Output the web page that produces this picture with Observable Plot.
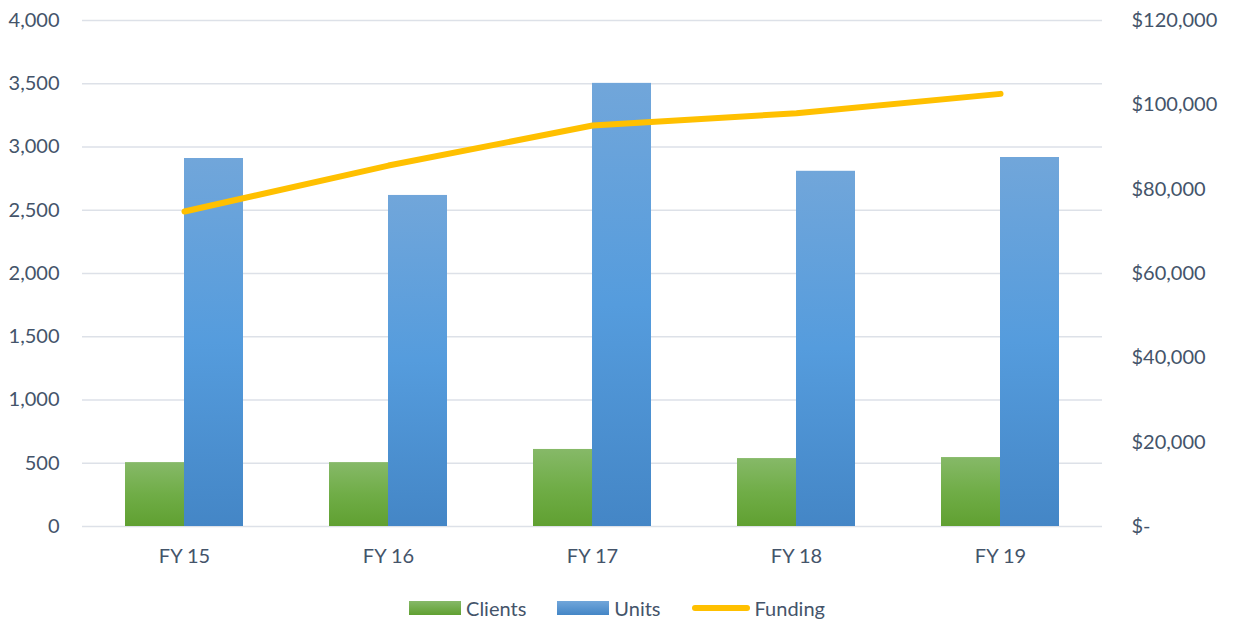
<!DOCTYPE html>
<html>
<head>
<meta charset="utf-8">
<script src="https://cdn.jsdelivr.net/npm/d3@7"></script>
<script src="https://cdn.jsdelivr.net/npm/@observablehq/plot@0.6"></script>
<style>
  html, body { margin: 0; padding: 0; background: #fff; }
  body { width: 1234px; height: 623px; overflow: hidden; font-family: Lato, "Open Sans", sans-serif; }
  #legend { display: flex; justify-content: center; align-items: center; gap: 31px; height: 30px; margin-top: 14px; padding-right: 0px;
            font-size: 20px; color: #44546A; }
  .item { display: flex; align-items: center; gap: 5px; }
</style>
</head>
<body>
<div id="chart"></div>
<div id="legend"></div>
<script>
const years = ["FY 15", "FY 16", "FY 17", "FY 18", "FY 19"];
const clients = [505, 505, 609, 537, 545];
const units = [2909, 2617, 3503, 2808, 2917];
const funding = [74700, 85600, 95100, 98000, 102600];
const leftTicks = [0, 500, 1000, 1500, 2000, 2500, 3000, 3500, 4000];
const rightTicks = [0, 20000, 40000, 60000, 80000, 100000, 120000];
const seriesNames = ["Clients", "Units", "Funding"];

const ratio = 120000 / 4000;
const data = years.map((y, i) => ({year: y, clients: clients[i], units: units[i], funding: funding[i], fundingScaled: funding[i] / ratio}));

const textColor = "#44546A";
const fmtLeft = d3.format(",");
const fmtRight = v => v === 0 ? "$-" : "$" + d3.format(",")(v * ratio);

const bandInset = 59;

const chart = Plot.plot({
  width: 1234,
  height: 579,
  marginLeft: 82,
  marginRight: 132,
  marginTop: 20,
  marginBottom: 53,
  style: {fontFamily: "Lato, 'Open Sans', sans-serif", fontSize: "20px", color: textColor, background: "#fff"},
  x: {domain: years, paddingInner: 0.4216, paddingOuter: 0.2108, label: null},
  y: {domain: [0, 4000], label: null},
  marks: [
    Plot.gridY(leftTicks, {stroke: "#dde1e8", strokeOpacity: 1, strokeWidth: 1.6}),
    Plot.barY(data, {x: "year", y: "clients", fill: "url(#gradGreen)", insetRight: bandInset}),
    Plot.barY(data, {x: "year", y: "units", fill: "url(#gradBlue)", insetLeft: bandInset}),
    Plot.line(data, {x: "year", y: "fundingScaled", stroke: "#FFC000", strokeWidth: 6, strokeLinecap: "round", strokeLinejoin: "round"}),
    Plot.axisY(leftTicks, {anchor: "left", tickSize: 0, tickPadding: 23, tickFormat: fmtLeft, fill: textColor, label: null}),
    Plot.axisY(rightTicks.map(v => v / ratio), {anchor: "right", tickSize: 0, tickPadding: 29, tickFormat: fmtRight, fill: textColor, textAnchor: "start", label: null}),
    Plot.axisX({tickSize: 0, tickPadding: 22, fill: textColor, label: null})
  ]
});

const defs = `
<defs>
  <linearGradient id="gradGreen" x1="0" y1="0" x2="0" y2="1">
    <stop offset="0" stop-color="#86b968"/>
    <stop offset="0.5" stop-color="#70ad47"/>
    <stop offset="1" stop-color="#60a031"/>
  </linearGradient>
  <linearGradient id="gradBlue" x1="0" y1="0" x2="0" y2="1">
    <stop offset="0" stop-color="#71a6da"/>
    <stop offset="0.5" stop-color="#559cdd"/>
    <stop offset="1" stop-color="#4486c6"/>
  </linearGradient>
</defs>`;
chart.insertAdjacentHTML("afterbegin", defs);
document.getElementById("chart").appendChild(chart);

// Legend
const legend = document.getElementById("legend");
const swatches = [
  `<svg width="52" height="16"><rect x="0" y="1" width="52" height="14" fill="url(#gradGreenL)"/><defs><linearGradient id="gradGreenL" x1="0" y1="0" x2="0" y2="1"><stop offset="0" stop-color="#86b968"/><stop offset="1" stop-color="#60a031"/></linearGradient></defs></svg>`,
  `<svg width="52" height="16"><rect x="0" y="1" width="52" height="14" fill="url(#gradBlueL)"/><defs><linearGradient id="gradBlueL" x1="0" y1="0" x2="0" y2="1"><stop offset="0" stop-color="#71a6da"/><stop offset="1" stop-color="#4486c6"/></linearGradient></defs></svg>`,
  `<svg width="58" height="16"><line x1="3" y1="8" x2="55" y2="8" stroke="#FFC000" stroke-width="6" stroke-linecap="round"/></svg>`
];
seriesNames.forEach((name, i) => {
  const item = document.createElement("div");
  item.className = "item";
  item.innerHTML = swatches[i] + `<span>${name}</span>`;
  legend.appendChild(item);
});
</script>
</body>
</html>
